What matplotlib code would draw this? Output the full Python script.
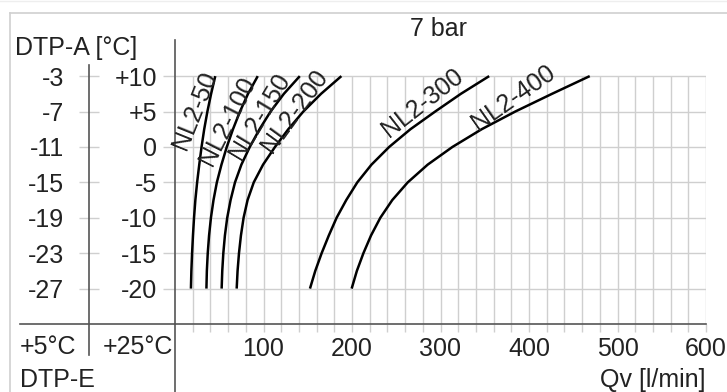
import matplotlib.pyplot as plt
from matplotlib.lines import Line2D

plt.rcParams['font.family'] = ['Liberation Sans', 'DejaVu Sans']

# DTP-A on the +25°C scale (y) vs. flow Qv [l/min] (x)
temp = [-20, -17.5, -15, -12.5, -10, -7.5, -5, -2.5, 0, 2.5, 5, 7.5, 10]
nl2_50 = [18, 18.5, 19.3, 20.3, 21.5, 23, 25, 27.4, 30, 33, 36.6, 40.8, 45.5]
nl2_100 = [35.5, 36, 37, 38.5, 40.6, 43.5, 47.3, 52.5, 58.5, 65.5, 73.4, 82.5, 93.5]
nl2_150 = [52.7, 53.4, 54.6, 56.4, 59, 62.8, 67.8, 75, 84.5, 95.5, 108, 123, 141]
nl2_200 = [69.7, 70.7, 72.3, 74.5, 77.5, 82, 89, 99.5, 113, 128, 145, 165, 188]
nl2_300 = [152.5, 158.5, 165.7, 173.8, 182.6, 193.5, 206, 222, 242, 266, 294, 323, 355]
nl2_400 = [199.6, 205.5, 212.9, 221.5, 232, 245.5, 263, 285.5, 313.5, 346.5, 384.5, 426, 468.6]

names = ["NL2-50", "NL2-100", "NL2-150", "NL2-200", "NL2-300", "NL2-400"]
series = [nl2_50, nl2_100, nl2_150, nl2_200, nl2_300, nl2_400]
label_xy = [(22, 5.2), (59, 3.6), (96, 4.3), (135, 5.0), (280, 6.2), (382, 7.0)]
label_rot = [68, 63, 59, 54, 38, 35]

ticks_25 = [10, 5, 0, -5, -10, -15, -20]
labels_25 = ["+10", "+5", "0", "-5", "-10", "-15", "-20"]
ticks_5 = [-3, -7, -11, -15, -19, -23, -27]
x_ticks = [100, 200, 300, 400, 500, 600]

W, H = 727, 392
FS = 18
grid_c = "#cfcfcf"
axis_c = "#555555"
text_c = "#222222"

fig = plt.figure(figsize=(W / 100, H / 100), dpi=100)
ax = fig.add_axes([175 / W, 68 / H, 531 / W, 284 / H])
ax.set_xlim(0, 600)
ax.set_ylim(-25, 15.1)

# grid, only up to +10
ax.vlines(range(20, 601, 20), -25, 10, color=grid_c, lw=1.0, zorder=1)
ax.hlines(ticks_25, 0, 600, color=grid_c, lw=1.0, zorder=1)

for xs, name, (lx, ly), rot in zip(series, names, label_xy, label_rot):
    ax.plot(xs, temp, color="black", lw=1.8, zorder=3, solid_capstyle="butt")
    ax.text(lx, ly, name, rotation=rot, rotation_mode="anchor", ha="center",
            va="center", fontsize=FS, color=text_c, zorder=4)

for s in ["top", "right"]:
    ax.spines[s].set_visible(False)
for s in ["left", "bottom"]:
    ax.spines[s].set_color(axis_c)
    ax.spines[s].set_linewidth(1.2)

ax.set_xticks(x_ticks)
ax.set_xticks(range(20, 601, 20), minor=True)
ax.tick_params(axis="x", which="both", direction="out", length=6, color=grid_c,
               width=1.0, labelsize=FS, labelcolor=text_c, pad=3.5)
ax.set_yticks(ticks_25)
ax.set_yticklabels(labels_25)
ax.tick_params(axis="y", direction="out", length=8.6, color=grid_c, width=1.0,
               labelsize=FS, labelcolor=text_c, pad=4)

# +5°C scale
sec = ax.secondary_yaxis(-86 / 531, functions=(lambda y: 0.8 * y - 11,
                                               lambda a: (a + 11) / 0.8))
sec.set_yticks(ticks_5)
sec.set_yticklabels([str(t) for t in ticks_5])
sec.tick_params(direction="inout", length=13.7, color=grid_c, width=1.0,
                labelsize=FS, labelcolor=text_c, pad=11)
sec.spines["left"].set_visible(False)

# extra axis lines
ax.plot([-86 / 531, -86 / 531], [0.912, -0.109], transform=ax.transAxes,
        color=axis_c, lw=1.2, clip_on=False)
ax.plot([-155 / 531, 0], [0, 0], transform=ax.transAxes, color=axis_c, lw=1.2,
        clip_on=False)
ax.plot([0, 0], [0, -0.25], transform=ax.transAxes, color=axis_c, lw=1.2,
        clip_on=False)

# outer frame
fig.add_artist(Line2D([10 / W, 1], [1 - 13 / H, 1 - 13 / H], color="#d0d0d0", lw=1.2))
fig.add_artist(Line2D([10 / W, 10 / W], [0, 1 - 13 / H], color="#d0d0d0", lw=1.2))
fig.add_artist(Line2D([0, 1], [1 - 0.5 / H, 1 - 0.5 / H], color="#eeeeee", lw=1))


def ftext(x, y, s, ha):
    fig.text(x / W, 1 - y / H, s, ha=ha, va="center", fontsize=FS, color=text_c)


ftext(438, 29, "7 bar", "center")
ftext(15, 48, "DTP-A [°C]", "left")
ftext(20, 347, "+5°C", "left")
ftext(173, 347, "+25°C", "right")
ftext(20, 380, "DTP-E", "left")
ftext(705, 380, "Qv [l/min]", "right")

fig.savefig("out.png", dpi=100)
